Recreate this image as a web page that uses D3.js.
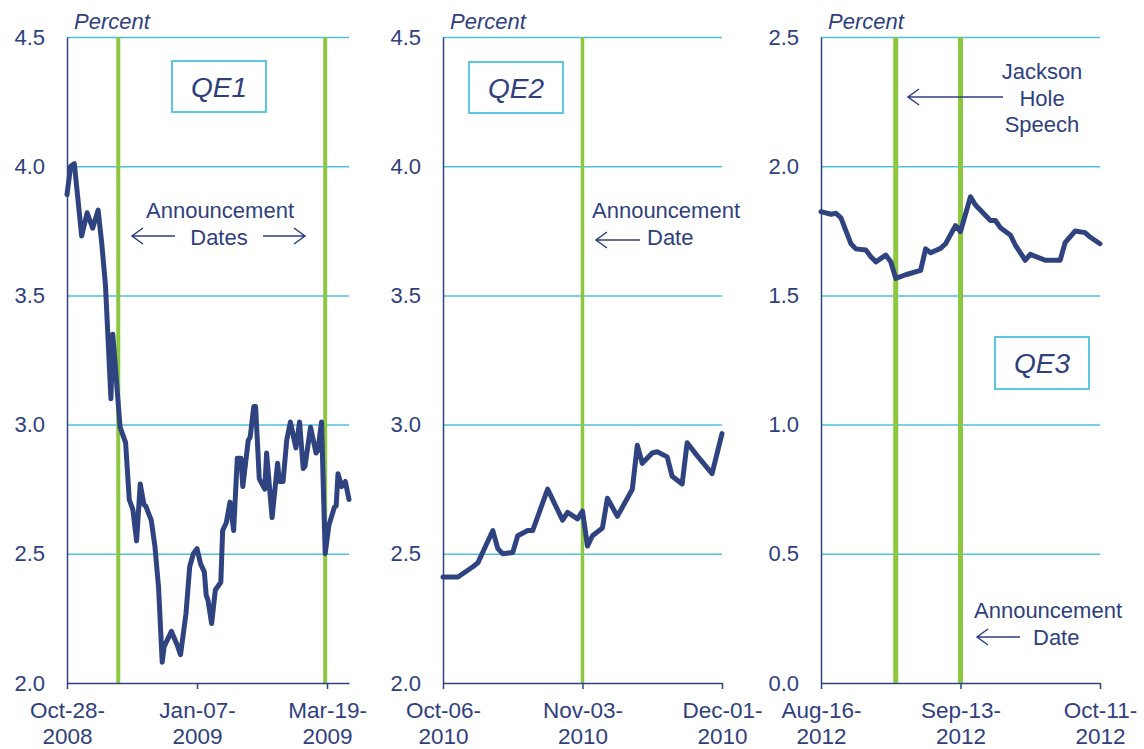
<!DOCTYPE html>
<html>
<head>
<meta charset="utf-8">
<script src="https://cdn.jsdelivr.net/npm/d3@7"></script>
<style>
  html, body { margin: 0; padding: 0; background: #fff; }
  svg { display: block; font-family: "Liberation Sans", Arial, sans-serif; }
</style>
</head>
<body>
<svg id="chart" width="1144" height="749"></svg>
<script>
// Three panels of 10-year yield around the QE announcements.
// x values are calendar-day offsets from each panel's first date.
const q1Start = Date.UTC(2008, 9, 28);
const q1Day = [0,2,4,8,11,14,17,19,21,24, 25,29,32,34,36,38,40,42,43,46,
  48,50,52,53,57,60,62,65,67,69, 71,73,75,76,77,79,81,84,85,87,
  89,91,93,95,96,99,100,102,103,105, 108,109,112,115,116,118,120,122,125,127,
  129,130,133,136,137,139,141,143,146,147, 148,150,152,154];
const q1Rate = [3.89,4.00,4.01,3.73,3.82,3.76,3.83,3.70,3.54,3.10,
  3.35,2.99,2.93,2.71,2.67,2.55,2.77,2.69,2.685,2.63,
  2.53,2.37,2.08,2.14,2.20,2.15,2.11,2.27,2.45,2.50,
  2.52,2.46,2.43,2.34,2.32,2.23,2.36,2.39,2.59,2.62,
  2.70,2.59,2.87,2.87,2.76,2.94,2.95,3.07,3.07,2.79,
  2.75,2.89,2.64,2.85,2.78,2.78,2.94,3.01,2.91,3.01,
  2.83,2.84,2.99,2.89,2.90,3.01,2.50,2.61,2.68,2.685,
  2.81,2.76,2.78,2.71];
const q1Ticks = [0, 71, 142];        // Oct-28, Jan-07, Mar-19
const q1Events = [28, 141];          // Nov-25-2008, Mar-18-2009

const q2Start = Date.UTC(2010, 9, 6);
const q2Day = [0,3,6,7,10,11,12,14,15,17, 18,21,24,25,27,28,29,30,32,33,
  35,38,39,40,42,43,45,46,48,49, 51,54,56];
const q2Rate = [2.41,2.41,2.45,2.465,2.59,2.52,2.50,2.505,2.57,2.59,
  2.59,2.75,2.63,2.66,2.635,2.665,2.53,2.57,2.60,2.715,
  2.645,2.75,2.92,2.85,2.89,2.895,2.875,2.80,2.77,2.93,
  2.88,2.81,2.965];
const q2Ticks = [0, 28, 56];         // Oct-06, Nov-03, Dec-01
const q2Events = [28];

const q3Start = Date.UTC(2012, 7, 16);
const q3Day = [0,2,3,4,6,7,9,10,11,13, 14,15,17,20,21,22,24,25,27,28,
  30,31,34,35,36,38,39,41,42,45, 48,49,51,53,54,56];
const q3Rate = [1.824,1.814,1.818,1.80,1.70,1.68,1.676,1.65,1.63,1.656,
  1.63,1.566,1.58,1.597,1.68,1.665,1.682,1.70,1.77,1.747,
  1.882,1.85,1.79,1.79,1.762,1.734,1.695,1.636,1.659,1.636,
  1.636,1.704,1.749,1.743,1.726,1.70];
const q3Ticks = [0, 28, 56];         // Aug-16, Sep-13, Oct-11
const q3Events = [15, 28];           // Aug-31 Jackson Hole, Sep-13

const yTicksHigh = [2.0, 2.5, 3.0, 3.5, 4.0, 4.5];
const yTicksLow = [0.0, 0.5, 1.0, 1.5, 2.0, 2.5];

const NAVY = "#2f4380", TEXT = "#2f3f7e", GRID = "#4cc2dc", GREEN = "#8dc63f";
const TOP = 37, BOT = 683;
const svg = d3.select("#chart");

function panel(p) {
  const x = d3.scaleUtc([p.start, d3.utcDay.offset(p.start, p.span)], [p.x0, p.x1]);
  const y = d3.scaleLinear([p.yTicks[0], p.yTicks[p.yTicks.length - 1]], [BOT, TOP]);
  const g = svg.append("g");

  // horizontal grid
  g.append("g").attr("transform", `translate(${p.x0},0)`)
    .call(d3.axisLeft(y).tickValues(p.yTicks.slice(1)).tickSize(-(p.x1 - p.x0)).tickFormat(""))
    .call(s => s.select(".domain").remove())
    .selectAll("line").attr("stroke", GRID).attr("stroke-width", 1.5);

  // announcement lines
  g.append("g").selectAll("line").data(p.events).join("line")
    .attr("x1", d => x(d3.utcDay.offset(p.start, d))).attr("x2", d => x(d3.utcDay.offset(p.start, d)))
    .attr("y1", TOP).attr("y2", BOT)
    .attr("stroke", GREEN).attr("stroke-width", p.eventWidth);

  // y axis with labels
  const ya = g.append("g").attr("transform", `translate(${p.x0},0)`)
    .call(d3.axisLeft(y).tickValues(p.yTicks).tickSize(0).tickPadding(22)
      .tickFormat(d3.format(".1f")));
  ya.select(".domain").attr("stroke", NAVY).attr("stroke-width", 1.5);
  ya.selectAll("text").attr("fill", TEXT).attr("font-size", 22)
    .attr("font-family", "Liberation Sans, Arial, sans-serif");

  // x axis, two-line date labels
  const xa = g.append("g").attr("transform", `translate(0,${BOT})`)
    .call(d3.axisBottom(x).tickValues(p.ticks.map(d => d3.utcDay.offset(p.start, d)))
      .tickSize(6).tickSizeOuter(0).tickFormat(""));
  xa.select(".domain").attr("stroke", NAVY).attr("stroke-width", 1.5);
  xa.selectAll(".tick line").attr("stroke", NAVY).attr("stroke-width", 1.5);
  xa.selectAll(".tick").each(function (d) {
    const t = d3.select(this).append("text").attr("fill", TEXT).attr("font-size", 22.5)
      .attr("text-anchor", "middle").attr("font-family", "Liberation Sans, Arial, sans-serif");
    t.append("tspan").attr("x", 0).attr("y", 35).text(d3.utcFormat("%b-%d-")(d));
    t.append("tspan").attr("x", 0).attr("y", 61).text(d3.utcFormat("%Y")(d));
  });

  // the series
  const line = d3.line()
    .x((d, i) => x(d3.utcDay.offset(p.start, p.days[i])))
    .y(d => y(d));
  g.append("path").datum(p.rates).attr("d", line)
    .attr("fill", "none").attr("stroke", NAVY).attr("stroke-width", 5)
    .attr("stroke-linejoin", "round").attr("stroke-linecap", "round");

  g.append("text").attr("x", p.x0 + 7).attr("y", 29).attr("fill", TEXT)
    .attr("font-size", 22).attr("font-style", "italic").text("Percent");

  // QE label box
  const b = p.box;
  g.append("rect").attr("x", b[0]).attr("y", b[1]).attr("width", b[2]).attr("height", b[3])
    .attr("fill", "none").attr("stroke", GRID).attr("stroke-width", 1.8);
  g.append("text").attr("x", b[0] + b[2] / 2).attr("y", b[1] + 36)
    .attr("text-anchor", "middle").attr("fill", TEXT).attr("font-size", 28)
    .attr("font-style", "italic").text(p.label);

  // annotations
  p.notes.forEach(n => g.append("text").attr("x", n[0]).attr("y", n[1])
    .attr("text-anchor", n[3] || "middle").attr("fill", TEXT).attr("font-size", 22).text(n[2]));
  p.arrows.forEach(a => arrow(g, a[0], a[1], a[2]));
}

function arrow(g, from, to, yy) {
  const dir = to < from ? 1 : -1;
  g.append("path")
    .attr("d", `M${from},${yy}H${to}M${to + dir * 11},${yy - 8}L${to},${yy}L${to + dir * 11},${yy + 8}`)
    .attr("fill", "none").attr("stroke", TEXT).attr("stroke-width", 1.5);
}

panel({
  start: q1Start, span: 154.6, x0: 67, x1: 349, days: q1Day, rates: q1Rate,
  ticks: q1Ticks, events: q1Events, eventWidth: 4, yTicks: yTicksHigh,
  label: "QE1", box: [172, 61, 94, 51],
  notes: [[220, 218, "Announcement"], [219, 245, "Dates"]],
  arrows: [[175, 132, 236], [263, 305, 236]]
});
panel({
  start: q2Start, span: 56, x0: 443, x1: 722, days: q2Day, rates: q2Rate,
  ticks: q2Ticks, events: q2Events, eventWidth: 3.5, yTicks: yTicksHigh,
  label: "QE2", box: [469, 62, 94, 51],
  notes: [[592, 218, "Announcement", "start"], [647, 245, "Date", "start"]],
  arrows: [[640, 596, 240]]
});
panel({
  start: q3Start, span: 56, x0: 821, x1: 1100, days: q3Day, rates: q3Rate,
  ticks: q3Ticks, events: q3Events, eventWidth: 5, yTicks: yTicksLow,
  label: "QE3", box: [995, 337, 94, 52],
  notes: [[1042, 79, "Jackson"], [1042, 106, "Hole"], [1042, 132, "Speech"],
          [974, 618, "Announcement", "start"], [1033, 645, "Date", "start"]],
  arrows: [[1003, 908, 97], [1020, 977, 637]]
});
</script>
</body>
</html>
